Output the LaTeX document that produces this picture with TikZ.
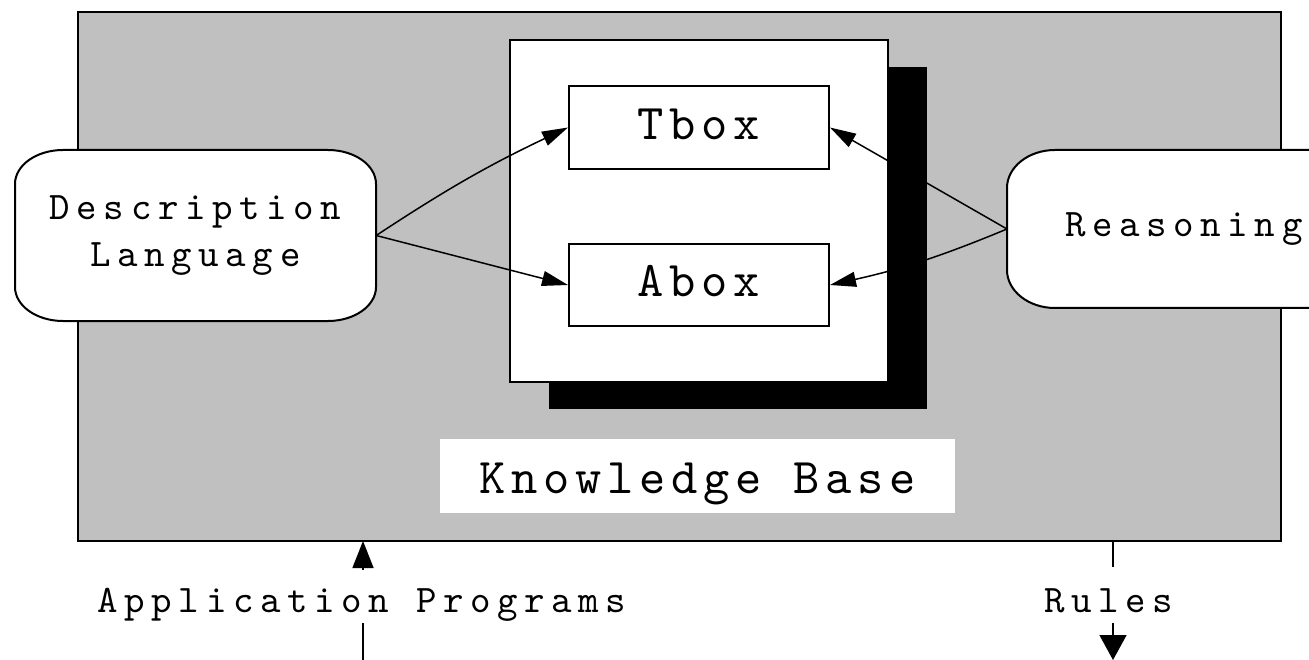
\documentclass[tikz,border=0pt]{standalone}
\usepackage{fontspec}
\usetikzlibrary{arrows.meta,shadows}
% typewriter faces with wide tracking
\newfontfamily\wideTT{lmmono10-regular.otf}[LetterSpace=17]
\newfontfamily\boxTT{lmmono10-regular.otf}[LetterSpace=11.5]
\definecolor{panelgray}{HTML}{C0C0C0}

\tikzset{
  labeltext/.style={font=\wideTT\fontsize{39}{47}\selectfont, inner sep=0pt},
  titletext/.style={font=\boxTT\fontsize{50}{60}\selectfont, text height=30pt, text depth=6pt},
  plainbox/.style={draw, line width=2pt, fill=white, inner sep=0pt},
  link/.style={line width=1.5pt, -{Triangle[length=26pt,width=15pt]}},
  stub/.style={line width=1.5pt},
}

% capsule outline: #1,#2 top-left; #3,#4 bottom-right; #5,#6 corner radii
\newcommand\capsule[6]{%
  \draw[line width=2pt, fill=white]
    (#1+#5,#2) -- (#3-#5,#2)
    .. controls (#3-0.448*#5,#2) and (#3,#2+0.448*#6) .. (#3,#2+#6)
    -- (#3,#4-#6)
    .. controls (#3,#4-0.448*#6) and (#3-0.448*#5,#4) .. (#3-#5,#4)
    -- (#1+#5,#4)
    .. controls (#1+0.448*#5,#4) and (#1,#4-0.448*#6) .. (#1,#4-#6)
    -- (#1,#2+#6)
    .. controls (#1,#2+0.448*#6) and (#1+0.448*#5,#2) .. cycle;}

\begin{document}
\begin{tikzpicture}[x=1pt,y=-1pt]
\clip (0,0) rectangle (1309,660);
\fill[white] (0,0) rectangle (1309,660);

% grey system frame
\node[draw, line width=2.5pt, fill=panelgray, minimum width=1203pt,
      minimum height=529pt, inner sep=0pt] (frame) at (679.5,276.5) {};

% side components
\capsule{15}{150}{376}{321}{48}{34}
\node[labeltext, align=center, minimum width=361pt, minimum height=171pt]
  (dl) at (195.5,235.5) {Description\\Language};

\capsule{1007}{150}{1420}{308}{48}{38}
\node[labeltext, anchor=west, text width=300pt, align=left,
      minimum height=158pt, inner xsep=58pt] (rs) at (1007,229) {Reasoning};

% knowledge base with its drop shadow
\node[plainbox, minimum width=378pt, minimum height=342pt,
      drop shadow={shadow xshift=39pt, shadow yshift=-27pt, opacity=1,
                   fill=black, draw=none}] (kb) at (699,211) {};
\node[plainbox, titletext, minimum width=260pt, minimum height=83pt]
  (tbox) at (699,127.5) {Tbox};
\node[plainbox, titletext, minimum width=260pt, minimum height=82pt]
  (abox) at (699,285) {Abox};
\node[fill=white, titletext, text height=40pt, minimum width=515pt,
      minimum height=74pt, inner sep=0pt] (kbl) at (697.5,476) {Knowledge Base};

% links into the boxes
\draw[link] (dl.east) to[bend left=4] (tbox.west);
\draw[link] (dl.east) -- (abox.west);
\draw[link] (rs.west) -- (tbox.east);
\draw[link] (rs.west) to[bend left=5] (abox.east);

% external interfaces
\node[labeltext, anchor=base] (app) at (362,612) {Application Programs};
\node[labeltext, anchor=base] (rules) at (1109,612) {Rules};

\coordinate (appTop) at (363,541);
\coordinate (appHead) at (363,570);
\coordinate (appLow) at (363,623);
\coordinate (appEnd) at (363,660);
\draw[stub, -{Triangle[length=27pt,width=21pt]}] (appHead) -- (appTop);
\draw[stub] (appEnd) -- (appLow);

\coordinate (ruTop) at (1113,541);
\coordinate (ruUp) at (1113,567);
\coordinate (ruLow) at (1113,623);
\coordinate (ruEnd) at (1113,660);
\draw[stub] (ruTop) -- (ruUp);
\draw[stub, -{Triangle[length=25pt,width=27pt]}] (ruLow) -- (ruEnd);
\end{tikzpicture}
\end{document}
